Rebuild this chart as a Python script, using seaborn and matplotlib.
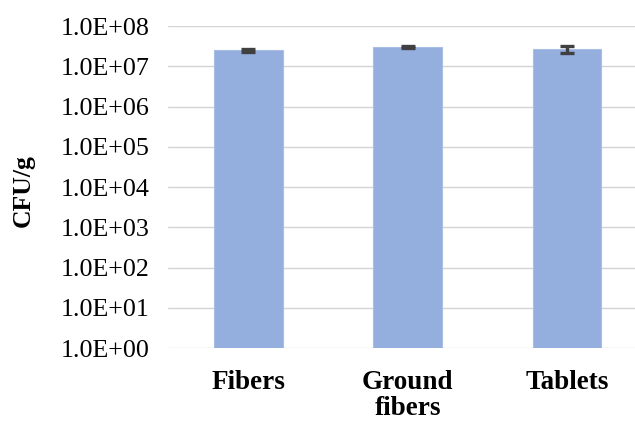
import numpy as np
import pandas as pd
import matplotlib
matplotlib.use("Agg")
import matplotlib.pyplot as plt
from matplotlib.ticker import FixedLocator, FuncFormatter, NullLocator
import seaborn as sns

categories = ["Fibers", "Ground\nfibers", "Tablets"]
cfu_values = [2.5e7, 3.0e7, 2.65e7]
cfu_errors = [2.0e6, 1.5e6, 5.0e6]
ytick_values = [1e0, 1e1, 1e2, 1e3, 1e4, 1e5, 1e6, 1e7, 1e8]

sns.set_theme(style="white")
plt.rcParams["font.family"] = ["Liberation Serif", "DejaVu Serif"]

df = pd.DataFrame({"category": categories, "cfu": cfu_values})

fig = plt.figure(figsize=(6.35, 4.23), dpi=100)
ax = fig.add_axes([0.2646, 0.1773, 0.7354, 0.7612])

sns.barplot(data=df, x="category", y="cfu", ax=ax, color="#94AEDE",
            saturation=1, width=0.433, errorbar=None, edgecolor="#A9BEE6",
            linewidth=0.8, log_scale=(False, True), zorder=2)
ax.errorbar(x=np.arange(len(categories)), y=cfu_values, yerr=cfu_errors,
            fmt="none", ecolor="#404040", elinewidth=2.4, capsize=5,
            capthick=2.4, zorder=3)

ax.set_yscale("log")
ax.set_ylim(1, 1e8)
ax.set_xlim(-0.505, 2.427)
ax.yaxis.set_major_locator(FixedLocator(ytick_values))
ax.yaxis.set_minor_locator(NullLocator())

def fmt(v, pos):
    e = int(round(np.log10(v)))
    return "1.0E+%02d" % e

ax.yaxis.set_major_formatter(FuncFormatter(fmt))
ax.grid(axis="y", color="#D4D4D4", linewidth=1.0, zorder=0)
ax.set_axisbelow(True)
for s in ax.spines.values():
    s.set_visible(False)
ax.tick_params(axis="both", length=0)
ax.tick_params(axis="y", labelsize=18.7, pad=13, colors="black")
ax.tick_params(axis="x", labelsize=19.5, pad=16, colors="black")
for lbl in ax.get_xticklabels():
    lbl.set_fontweight("bold")
    lbl.set_linespacing(1.05)
ax.set_xlabel("")
ax.set_ylabel("CFU/g", fontsize=18.5, fontweight="bold", color="black")
ax.yaxis.set_label_coords(-0.285, 0.49)

fig.savefig("out.png", dpi=100)
